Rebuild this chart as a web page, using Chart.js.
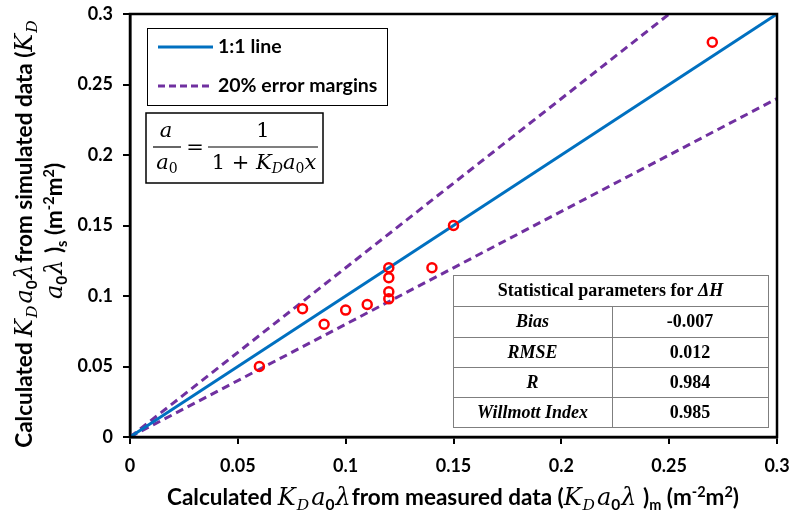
<!DOCTYPE html>
<html>
<head>
<meta charset="utf-8">
<script src="https://cdn.jsdelivr.net/npm/chart.js@4.4.1/dist/chart.umd.min.js"></script>
<style>
  html, body { margin: 0; padding: 0; background: #fff; }
  #wrap { width: 792px; height: 516px; position: relative; }
</style>
</head>
<body>
<div id="wrap"><canvas id="kdChart"></canvas></div>
<script>
// DATOS
const measured  = [0.06, 0.08, 0.09, 0.10, 0.11, 0.12, 0.12, 0.12, 0.12, 0.14, 0.15, 0.27];
const simulated = [0.05, 0.091, 0.08, 0.09, 0.094, 0.12, 0.113, 0.103, 0.098, 0.12, 0.15, 0.28];
const axisMin = 0;
const axisMax = 0.3;
const axisStep = 0.05;
const marginFactors = [1.2, 0.8];
const statNames  = ['Bias', 'RMSE', 'R', 'Willmott Index'];
const statValues = ['-0.007', '0.012', '0.984', '0.985'];
const legendNames = ['1:1 line', '20% error margins'];

const BLUE = '#0070C0';
const PURPLE = '#7030A0';
const RED = '#FF0000';

const points = measured.map((x, i) => ({ x: x, y: simulated[i] }));
const oneToOne = [axisMin, axisMax].map(x => ({ x: x, y: x }));
const upper = [axisMin, axisMax / marginFactors[0]].map(x => ({ x: x, y: x * marginFactors[0] }));
const lower = [axisMin, axisMax].map(x => ({ x: x, y: x * marginFactors[1] }));

// texto con partes de distinta fuente (cursiva, subindice...)
function richText(ctx, parts, x, y, rot) {
    ctx.save();
    ctx.translate(x, y);
    if (rot) ctx.rotate(rot);
    ctx.textAlign = 'left';
    ctx.textBaseline = 'alphabetic';
    let total = 0;
    parts.forEach(p => { ctx.font = p.f; total += ctx.measureText(p.t).width + (p.g || 0); });
    let cx = -total / 2;
    parts.forEach(p => {
        ctx.font = p.f;
        ctx.fillText(p.t, cx, p.dy || 0);
        cx += ctx.measureText(p.t).width + (p.g || 0);
    });
    ctx.restore();
}

const B  = 'bold 22.5px Lato';
const BS = 'bold 14.5px Lato';
const M  = 'italic 24px "DejaVu Serif"';
const MS = 'italic 15.5px "DejaVu Serif"';
const MN = 'bold 15.5px Lato';

// K_D a_0 lambda
const kdal = [
    { t: 'K', f: M, g: 1 }, { t: 'D', f: MS, dy: 5, g: 2 },
    { t: 'a', f: M, g: 0 }, { t: '0', f: MN, dy: 5, g: 1 },
    { t: 'λ', f: M, g: 1 }
];

const extras = {
    id: 'extras',
    afterDraw(chart) {
        const ctx = chart.ctx;
        const a = chart.chartArea;
        ctx.save();

        // marco del area
        ctx.strokeStyle = '#000';
        ctx.lineWidth = 2.5;
        ctx.strokeRect(a.left, a.top, a.right - a.left, a.bottom - a.top);

        ctx.fillStyle = '#000';
        // titulo eje x
        richText(ctx, [
            { t: 'Calculated ', f: B }
        ].concat(kdal, [
            { t: 'from measured data (', f: B }
        ], kdal, [
            { t: ' )', f: B }, { t: 'm', f: BS, dy: 5 },
            { t: ' (m', f: B }, { t: '-2', f: BS, dy: -8 },
            { t: 'm', f: B }, { t: '2', f: BS, dy: -8 },
            { t: ')', f: B }
        ]), 453, 505, 0);

        // titulo eje y (dos lineas)
        richText(ctx, [
            { t: 'Calculated ', f: B }
        ].concat(kdal, [
            { t: 'from simulated data (', f: B },
            { t: 'K', f: M, g: 1 }, { t: 'D', f: MS, dy: 5 }
        ]), 32, 234, -Math.PI / 2);
        richText(ctx, [
            { t: 'a', f: M }, { t: '0', f: MN, dy: 5, g: 1 },
            { t: 'λ', f: M, g: 1 },
            { t: ' )', f: B }, { t: 's', f: BS, dy: 5 },
            { t: ' (m', f: B }, { t: '-2', f: BS, dy: -8 },
            { t: 'm', f: B }, { t: '2', f: BS, dy: -8 },
            { t: ')', f: B }
        ], 62, 231, -Math.PI / 2);

        // leyenda
        ctx.fillStyle = '#fff';
        ctx.fillRect(147, 28, 240, 77);
        ctx.strokeStyle = '#000';
        ctx.lineWidth = 1;
        ctx.strokeRect(147.5, 28.5, 240, 77);
        ctx.lineWidth = 3;
        ctx.strokeStyle = BLUE;
        ctx.beginPath(); ctx.moveTo(158, 47); ctx.lineTo(213, 47); ctx.stroke();
        ctx.strokeStyle = PURPLE;
        ctx.setLineDash([7, 4]);
        ctx.beginPath(); ctx.moveTo(158, 86); ctx.lineTo(213, 86); ctx.stroke();
        ctx.setLineDash([]);
        ctx.fillStyle = '#000';
        ctx.font = 'bold 19.5px Lato';
        ctx.textAlign = 'left';
        ctx.textBaseline = 'middle';
        ctx.fillText(legendNames[0], 218, 47);
        ctx.fillText(legendNames[1], 218, 86);

        // ecuacion
        ctx.fillStyle = '#fff';
        ctx.fillRect(146, 113, 177, 70);
        ctx.strokeStyle = '#000';
        ctx.lineWidth = 1.5;
        ctx.strokeRect(146, 113, 177, 70);
        ctx.fillStyle = '#000';
        const E = 'italic 21px "DejaVu Serif"';
        const EN = '21px "DejaVu Serif"';
        const ES = 'italic 14px "DejaVu Serif"';
        const ESN = '14px "DejaVu Serif"';
        richText(ctx, [{ t: 'a', f: E }], 166, 137, 0);
        ctx.lineWidth = 1.2;
        ctx.beginPath(); ctx.moveTo(153, 147); ctx.lineTo(181, 147); ctx.stroke();
        richText(ctx, [{ t: 'a', f: E }, { t: '0', f: ESN, dy: 4 }], 167, 169, 0);
        richText(ctx, [{ t: '=', f: EN }], 195, 154, 0);
        richText(ctx, [{ t: '1', f: EN }], 263, 137, 0);
        ctx.beginPath(); ctx.moveTo(208, 147); ctx.lineTo(318, 147); ctx.stroke();
        richText(ctx, [
            { t: '1 + ', f: EN },
            { t: 'K', f: E }, { t: 'D', f: ES, dy: 4 },
            { t: 'a', f: E }, { t: '0', f: ESN, dy: 4 },
            { t: 'x', f: E }
        ], 264, 169, 0);

        // tabla de estadisticos
        const tx0 = 453, tx1 = 768, tmid = 612;
        const rows = [275, 306, 337, 367, 397, 427];
        ctx.fillStyle = '#fff';
        ctx.fillRect(tx0, rows[0], tx1 - tx0, rows[5] - rows[0]);
        ctx.strokeStyle = '#7f7f7f';
        ctx.lineWidth = 1;
        ctx.strokeRect(tx0 + 0.5, rows[0] + 0.5, tx1 - tx0, rows[5] - rows[0]);
        rows.slice(1, 5).forEach(r => {
            ctx.beginPath(); ctx.moveTo(tx0, r + 0.5); ctx.lineTo(tx1, r + 0.5); ctx.stroke();
        });
        ctx.beginPath(); ctx.moveTo(tmid + 0.5, rows[1]); ctx.lineTo(tmid + 0.5, rows[5]); ctx.stroke();
        ctx.fillStyle = '#000';
        const T = 'bold 18px "Liberation Serif"';
        const TI = 'italic bold 18px "Liberation Serif"';
        richText(ctx, [
            { t: 'Statistical parameters for ', f: T },
            { t: 'ΔH', f: TI }
        ], (tx0 + tx1) / 2, rows[0] + 21, 0);
        statNames.forEach((n, i) => {
            const yb = rows[i + 1] + 21;
            richText(ctx, [{ t: n, f: TI }], (tx0 + tmid) / 2, yb, 0);
            richText(ctx, [{ t: statValues[i], f: T }], (tmid + tx1) / 2, yb, 0);
        });

        ctx.restore();
    }
};

document.addEventListener('DOMContentLoaded', function() {
    const ctx = document.getElementById('kdChart').getContext('2d');

    const tickFmt = v => String(+v.toFixed(2));

    const kdChart = new Chart(ctx, {
        type: 'scatter',
        data: {
            datasets: [{
                label: 'datos',
                data: points,
                pointRadius: 4.5,
                pointBorderWidth: 2.5,
                borderColor: RED,
                backgroundColor: 'rgba(255,255,255,0)',
                pointBorderColor: RED,
                pointBackgroundColor: 'rgba(255,255,255,0)'
            }, {
                label: legendNames[0],
                data: oneToOne,
                showLine: true,
                borderColor: BLUE,
                borderWidth: 3,
                pointRadius: 0
            }, {
                label: legendNames[1],
                data: upper,
                showLine: true,
                borderColor: PURPLE,
                borderWidth: 3,
                borderDash: [8, 5],
                pointRadius: 0
            }, {
                label: legendNames[1] + ' (low)',
                data: lower,
                showLine: true,
                borderColor: PURPLE,
                borderWidth: 3,
                borderDash: [8, 5],
                pointRadius: 0
            }]
        },
        options: {
            responsive: true,
            maintainAspectRatio: false,
            animation: false,
            layout: {
                padding: { top: 14, right: 15, left: 0, bottom: 0 }
            },
            plugins: {
                legend: { display: false },
                tooltip: { enabled: false }
            },
            scales: {
                x: {
                    type: 'linear',
                    min: axisMin,
                    max: axisMax,
                    afterFit: s => { s.height = 79; s.paddingLeft = 0; s.paddingRight = 0; },
                    border: { color: '#000', width: 2.5 },
                    grid: { drawOnChartArea: false, drawTicks: true, tickLength: 7, color: '#000', lineWidth: 2 },
                    ticks: {
                        stepSize: axisStep,
                        color: '#000',
                        padding: 11,
                        maxRotation: 0,
                        font: { family: 'Lato', size: 18, weight: 'bold' },
                        callback: tickFmt
                    }
                },
                y: {
                    type: 'linear',
                    min: axisMin,
                    max: axisMax,
                    afterFit: s => { s.width = 130; s.paddingTop = 0; s.paddingBottom = 0; },
                    border: { color: '#000', width: 2.5 },
                    grid: { drawOnChartArea: false, drawTicks: true, tickLength: 7, color: '#000', lineWidth: 2 },
                    ticks: {
                        stepSize: axisStep,
                        color: '#000',
                        padding: 10,
                        font: { family: 'Lato', size: 18, weight: 'bold' },
                        callback: tickFmt
                    }
                }
            }
        },
        plugins: [extras]
    });
});
</script>
</body>
</html>
